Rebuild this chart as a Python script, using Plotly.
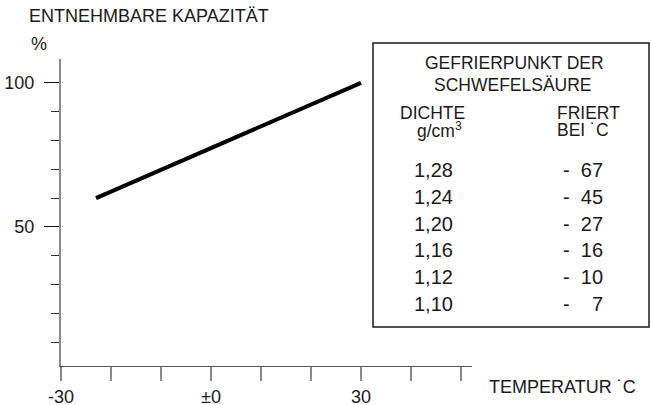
import plotly.graph_objects as go

# ---- data ----
temperature = [-23, 30]          # °C
capacity = [60, 100]             # % entnehmbare Kapazität
x_tick_vals = [-30, -20, -10, 0, 10, 20, 30, 40, 50]
x_tick_text = ["-30", "", "", "±0", "", "", "30", "", ""]
y_tick_vals = [50, 100]
y_tick_text = ["50", "100"]
dichte = ["1,28", "1,24", "1,20", "1,16", "1,12", "1,10"]
friert = [-67, -45, -27, -16, -10, -7]

# ---- layout geometry (pixels) ----
FW, FH = 651, 405
L, R, T, B = 61, 472, 59, 366
W, H = R - L, B - T


def px(x):
    return (x - L) / W


def py(y):
    return (B - y) / H


FONT = "Liberation Sans, Arial, sans-serif"
TXT = "#1a1a1a"

fig = go.Figure()
fig.add_trace(go.Scatter(x=temperature, y=capacity, mode="lines",
                         line=dict(color="black", width=4),
                         showlegend=False, hoverinfo="skip"))

fig.update_layout(
    width=FW, height=FH,
    margin=dict(l=L, r=FW - R, t=T, b=FH - B, pad=0, autoexpand=False),
    paper_bgcolor="white", plot_bgcolor="white",
    font=dict(family=FONT, size=18, color=TXT),
    showlegend=False,
)

fig.update_xaxes(
    range=[-30, 52.2], showgrid=False, zeroline=False, automargin=False,
    showline=True, linecolor="#555555", linewidth=1,
    tickmode="array", tickvals=x_tick_vals, ticktext=x_tick_text,
    ticks="outside", ticklen=14, tickwidth=2, tickcolor="#888888",
    tickfont=dict(family=FONT, size=18, color=TXT),
)
fig.update_yaxes(
    range=[1.7, 108.3], showgrid=False, zeroline=False, automargin=False,
    showline=True, linecolor="#8a8a8a", linewidth=2,
    tickmode="array", tickvals=y_tick_vals, ticktext=y_tick_text,
    ticks="outside", ticklen=15, tickwidth=1, tickcolor="#111111",
    ticklabelstandoff=6,
    minor=dict(tickmode="linear", tick0=0, dtick=10, ticks="outside",
               ticklen=8, tickwidth=1, tickcolor="#333333"),
    tickfont=dict(family=FONT, size=18, color=TXT),
)

ann = []


def note(text, x, y, xanchor="center", size=18):
    ann.append(dict(text=text, xref="paper", yref="paper", x=px(x), y=py(y),
                    xanchor=xanchor, yanchor="middle", showarrow=False,
                    font=dict(family=FONT, size=size, color=TXT)))


note("ENTNEHMBARE KAPAZITÄT", 27, 16, "left")
note("%", 39, 44)
note("TEMPERATUR ˙C", 487, 387, "left")

# table box
fig.add_shape(type="rect", xref="paper", yref="paper",
              x0=px(373), x1=px(649), y0=py(43), y1=py(327),
              line=dict(color="#1a1a1a", width=1.5), fillcolor="white", layer="above")

note("GEFRIERPUNKT DER", 514, 63, size=17.5)
note("SCHWEFELSÄURE", 513, 85, size=17.5)
note("DICHTE", 398, 113, "left", size=17.5)
note("g/cm<sup>3</sup>", 415, 130, "left", size=17.5)
note("FRIERT", 555, 113, "left", size=17.5)
note("BEI ˙C", 555, 130, "left", size=17.5)

row_y0, row_dy = 169.7, 26.9
for i, (d, f) in enumerate(zip(dichte, friert)):
    y = row_y0 + i * row_dy
    note(d, 412, y, "left", size=20)
    v = abs(f)
    s = "-\u00a0\u00a0" + ("\u00a0\u00a0" if v < 10 else "") + str(v)
    note(s, 605, y, "right", size=20)

fig.update_layout(annotations=ann)
fig.write_html(
    "out.html",
    config={"displayModeBar": False},
    post_script="document.body.style.margin='0px';document.body.style.overflow='hidden';",
)
